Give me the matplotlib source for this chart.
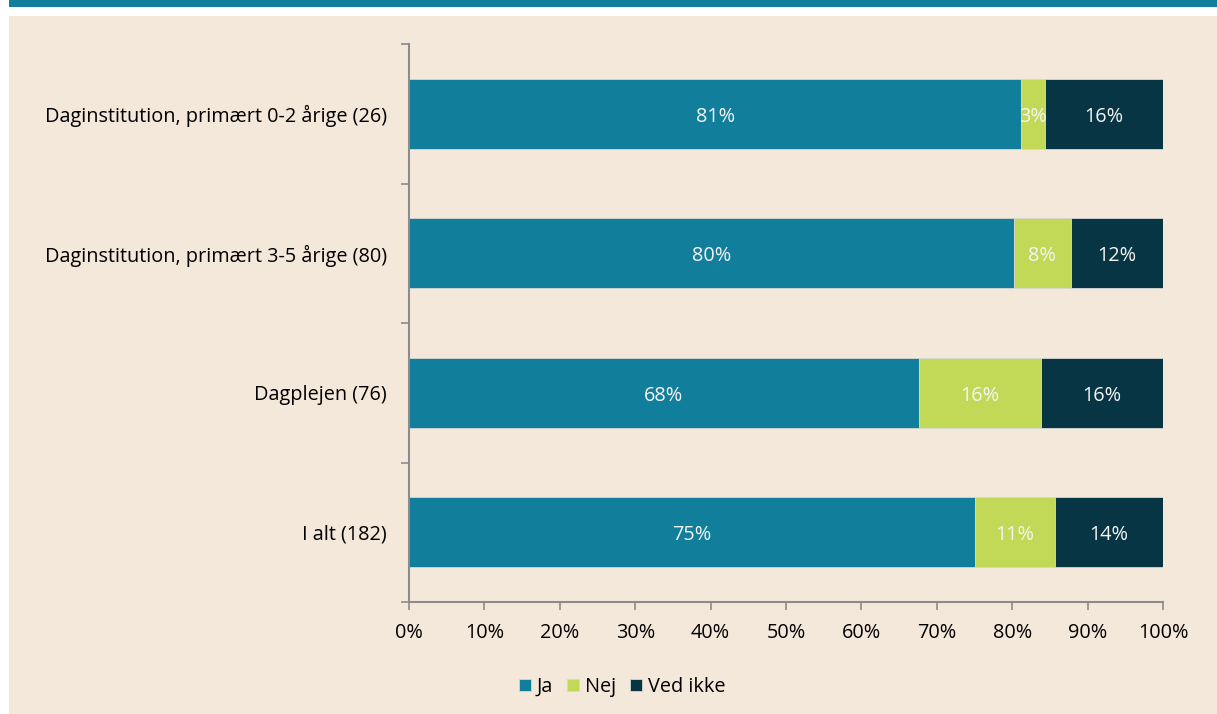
import matplotlib.pyplot as plt
from matplotlib.patches import Rectangle
import numpy as np

plt.rcParams['font.family'] = ['Open Sans', 'DejaVu Sans']

categories = [
    'Daginstitution, primært 0-2 årige (26)',
    'Daginstitution, primært 3-5 årige (80)',
    'Dagplejen (76)',
    'I alt (182)',
]
series_names = ['Ja', 'Nej', 'Ved ikke']
ja = [81.2, 80.2, 67.6, 75.1]
nej = [3.2, 7.6, 16.2, 10.6]
ved_ikke = [15.6, 12.2, 16.2, 14.3]
xtick_vals = list(range(0, 101, 10))

colors = ['#117e9c', '#c1d957', '#083543']
bg = '#f4e8db'
axis_col = '#8c8c8c'
fs = 14.3

W, H = 1217, 714
fig = plt.figure(figsize=(W / 100, H / 100), dpi=100)
fig.patch.set_facecolor('white')
# top band and panel background
fig.patches.append(Rectangle((9 / W, 1 - 7 / H), 1, 7 / H, transform=fig.transFigure,
                             facecolor='#117e9c', edgecolor='none', zorder=-2))
fig.patches.append(Rectangle((9 / W, 0), 1, 1 - 16 / H, transform=fig.transFigure,
                             facecolor=bg, edgecolor='none', zorder=-2))

ax = fig.add_axes([409 / W, 1 - 602 / H, (1163 - 409) / W, (602 - 44) / H])
ax.set_facecolor('none')

y = np.arange(len(categories))
left = np.zeros(len(categories))
for name, vals, col in zip(series_names, [ja, nej, ved_ikke], colors):
    vals = np.array(vals)
    ax.barh(y, vals, left=left, height=0.5, color=col, label=name,
            edgecolor='#d4d8d4', linewidth=0.6)
    for yi, l, v in zip(y, left, vals):
        ax.text(l + v / 2, yi + 0.02, f'{v:.0f}%', ha='center', va='center',
                color='#f4f4f4', fontsize=fs)
    left += vals

ax.set_xlim(0, 100)
ax.set_ylim(len(categories) - 0.5, -0.5)
ax.set_xticks(xtick_vals)
ax.set_xticklabels([f'{v}%' for v in xtick_vals], fontsize=fs)
ax.set_yticks(np.arange(-0.5, len(categories)))
ax.set_yticklabels([])
ax.set_yticks(y, minor=True)
ax.set_yticklabels(categories, minor=True, fontsize=fs)
ax.tick_params(axis='y', which='minor', length=0, pad=16)
ax.tick_params(axis='y', which='major', length=6, width=1.2, color=axis_col)
ax.tick_params(axis='x', length=6, width=1.2, color=axis_col, pad=9)

for s in ['top', 'right']:
    ax.spines[s].set_visible(False)
for s in ['left', 'bottom']:
    ax.spines[s].set_color(axis_col)
    ax.spines[s].set_linewidth(1.5)

fig.legend(loc='center', bbox_to_anchor=(622 / W, 1 - 687 / H), ncol=3,
           frameon=False, fontsize=fs, handlelength=0.6, handleheight=0.6,
           handletextpad=0.3, columnspacing=0.7)

fig.savefig('out.png', dpi=100, facecolor=fig.get_facecolor())
